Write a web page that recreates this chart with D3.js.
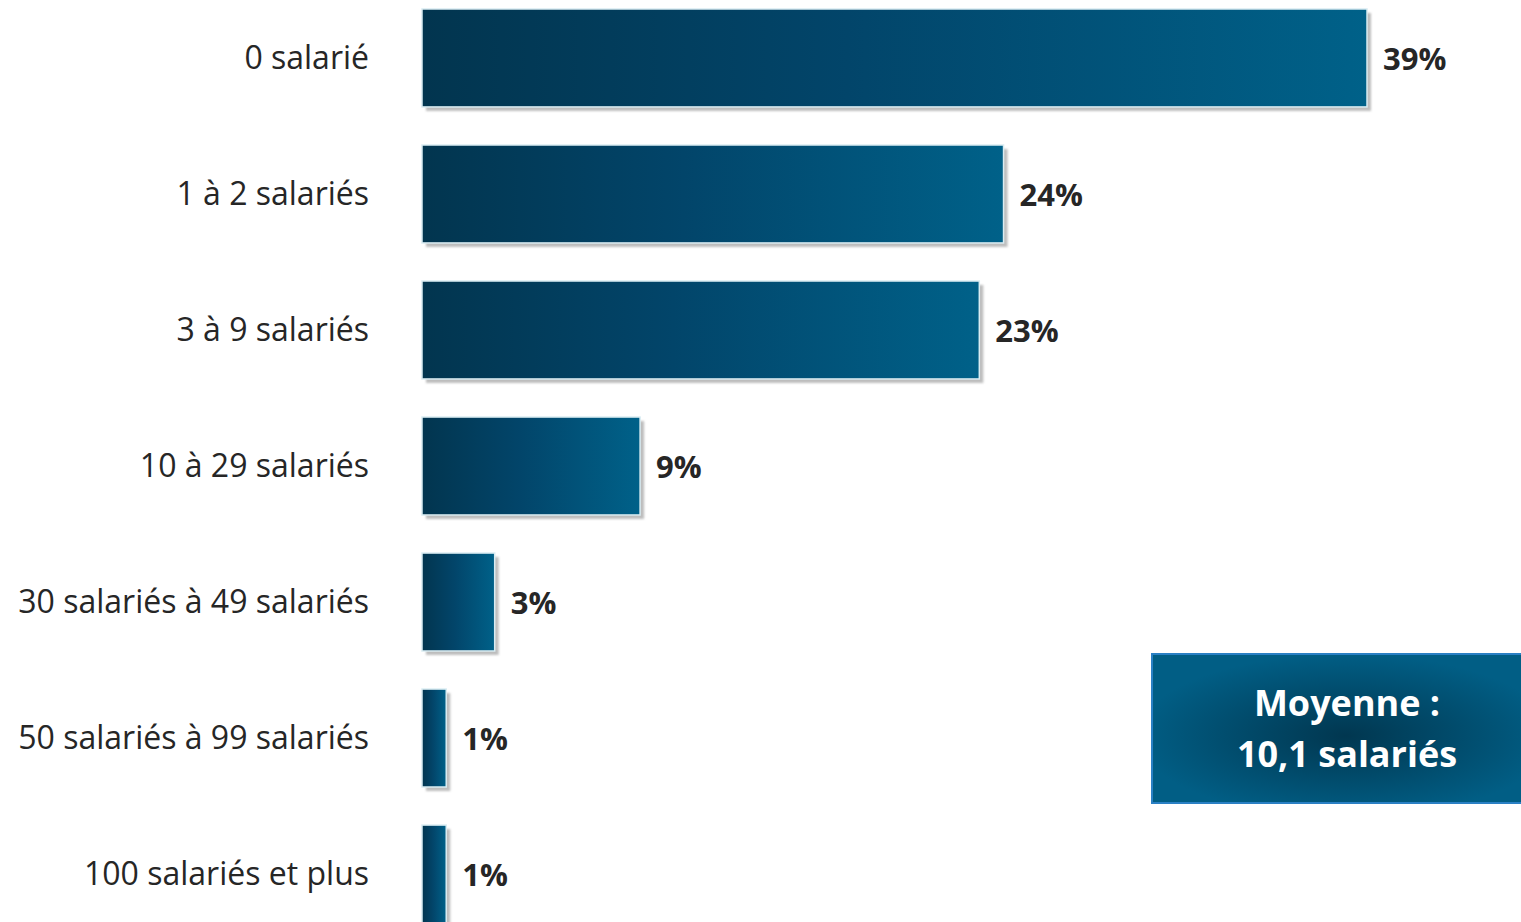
<!DOCTYPE html>
<html>
<head>
<meta charset="utf-8">
<script src="https://cdn.jsdelivr.net/npm/d3@7"></script>
<style>
  html, body { margin: 0; padding: 0; background: #ffffff; overflow: hidden; }
  svg { display: block; }
</style>
</head>
<body>
<svg id="chart" width="1521" height="922"></svg>
<script>
// Répartition des entreprises par tranche d'effectif salarié
const categories = [
  "0 salarié",
  "1 à 2 salariés",
  "3 à 9 salariés",
  "10 à 29 salariés",
  "30 salariés à 49 salariés",
  "50 salariés à 99 salariés",
  "100 salariés et plus"
];
const shares = [39, 24, 23, 9, 3, 1, 1];
const valueLabels = ["39%", "24%", "23%", "9%", "3%", "1%", "1%"];
const averageLines = ["Moyenne :", "10,1 salariés"];

const W = 1521, H = 922;
const svg = d3.select("#chart");
const defs = svg.append("defs");

const barGrad = defs.append("linearGradient")
  .attr("id", "barGrad").attr("x1", "0").attr("x2", "1").attr("y1", "0").attr("y2", "0");
barGrad.append("stop").attr("offset", "0%").attr("stop-color", "#02354f");
barGrad.append("stop").attr("offset", "45%").attr("stop-color", "#02456a");
barGrad.append("stop").attr("offset", "100%").attr("stop-color", "#006189");

const boxGrad = defs.append("radialGradient")
  .attr("id", "boxGrad").attr("cx", "0.51").attr("cy", "0.55").attr("r", "0.55");
boxGrad.append("stop").attr("offset", "0%").attr("stop-color", "#013750");
boxGrad.append("stop").attr("offset", "100%").attr("stop-color", "#015e85");

const shadow = defs.append("filter").attr("id", "shadow")
  .attr("x", "-10%").attr("y", "-10%").attr("width", "130%").attr("height", "130%");
shadow.append("feGaussianBlur").attr("stdDeviation", 1);

const x = d3.scaleLinear().domain([0, 39]).range([422, 1367]);
const y = d3.scaleBand().domain(categories).range([9, 923]).paddingInner(0.28).paddingOuter(0);

const bars = svg.append("g").selectAll("g").data(categories).join("g");

// ombre portée
bars.append("rect")
  .attr("x", x(0) + 4)
  .attr("y", d => y(d) + 4)
  .attr("width", (d, i) => x(shares[i]) - x(0))
  .attr("height", y.bandwidth())
  .attr("fill", "#bdbdbd")
  .attr("filter", "url(#shadow)");

bars.append("rect")
  .attr("x", x(0))
  .attr("y", d => y(d))
  .attr("width", (d, i) => x(shares[i]) - x(0))
  .attr("height", y.bandwidth())
  .attr("fill", "url(#barGrad)")
  .attr("stroke", "#d9ecf2")
  .attr("stroke-width", 1.5);

// libellés des catégories
svg.append("g").selectAll("text").data(categories).join("text")
  .attr("x", 369)
  .attr("y", d => y(d) + y.bandwidth() / 2 + 2)
  .attr("text-anchor", "end")
  .attr("dominant-baseline", "middle")
  .attr("font-family", "'Open Sans', sans-serif")
  .attr("font-size", 32)
  .attr("fill", "#262626")
  .text(d => d);

// valeurs
svg.append("g").selectAll("text").data(categories).join("text")
  .attr("x", (d, i) => x(shares[i]) + 16)
  .attr("y", d => y(d) + y.bandwidth() / 2 + 4)
  .attr("dominant-baseline", "middle")
  .attr("font-family", "'Open Sans', sans-serif")
  .attr("font-weight", "bold")
  .attr("font-size", 31)
  .attr("fill", "#262626")
  .text((d, i) => valueLabels[i]);

// encadré moyenne
const box = svg.append("g");
box.append("rect")
  .attr("x", 1152).attr("y", 654).attr("width", 380).attr("height", 149)
  .attr("fill", "url(#boxGrad)")
  .attr("stroke", "#2a80c4").attr("stroke-width", 2);
box.selectAll("text").data(averageLines).join("text")
  .attr("x", 1347)
  .attr("y", (d, i) => 706 + i * 51)
  .attr("text-anchor", "middle")
  .attr("dominant-baseline", "middle")
  .attr("font-family", "'Open Sans', sans-serif")
  .attr("font-weight", "bold")
  .attr("font-size", 36)
  .attr("fill", "#ffffff")
  .text(d => d);
</script>
</body>
</html>
